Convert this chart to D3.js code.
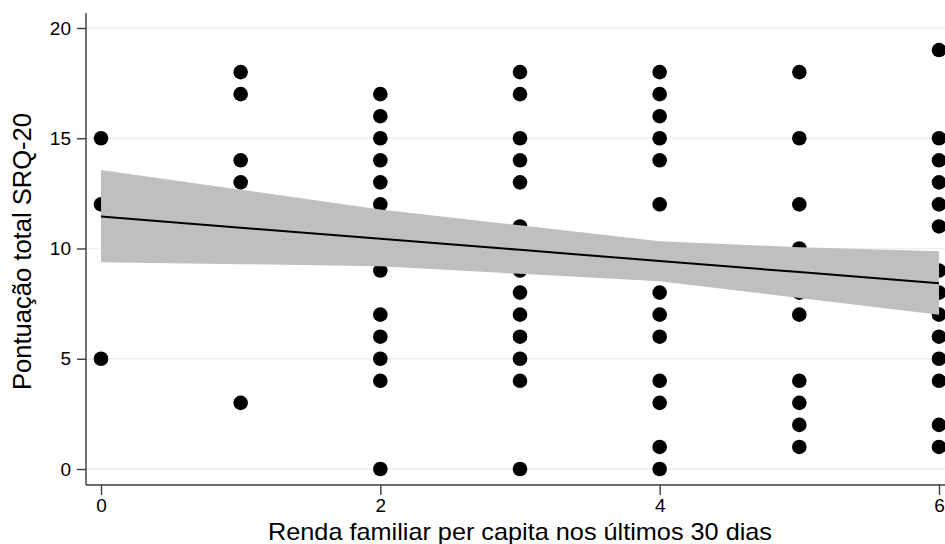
<!DOCTYPE html>
<html>
<head>
<meta charset="utf-8">
<script src="https://d3js.org/d3.v7.min.js"></script>
<style>
  body { margin: 0; background: #fff; }
  svg { display: block; font-family: "Liberation Sans", Arial, sans-serif; }
</style>
</head>
<body>
<svg width="945" height="544"></svg>
<script>
// observed points: renda (x) and SRQ-20 score (y)
const renda = [0,0,0, 1,1,1,1,1,
  2,2,2,2,2,2,2,2,2,2,2,2,
  3,3,3,3,3,3,3,3,3,3,3,3,3,
  4,4,4,4,4,4,4,4,4,4,4,4,4,
  5,5,5,5,5,5,5,5,5,5,
  6,6,6,6,6,6,6,6,6,6,6,6,6,6];
const srq = [15,12,5, 18,17,14,13,3,
  17,16,15,14,13,12,9,7,6,5,4,0,
  18,17,15,14,13,11,9,8,7,6,5,4,0,
  18,17,16,15,14,12,8,7,6,4,3,1,0,
  18,15,12,10,8,7,4,3,2,1,
  19,15,14,13,12,11,9,8,7,6,5,4,2,1];

// fitted line and 95% CI
const fitX = [0, 1, 2, 3, 4, 5, 6];
const fitY = [11.45, 10.94, 10.44, 9.94, 9.43, 8.93, 8.42];
const ciUpper = [13.56, 12.67, 11.77, 11.05, 10.33, 10.06, 9.88];
const ciLower = [9.38, 9.29, 9.2, 8.85, 8.51, 7.76, 7.0];

const xTicks = [0, 2, 4, 6];
const yTicks = [0, 5, 10, 15, 20];

const width = 945, height = 544;
const svg = d3.select("svg");

const x = d3.scaleLinear().domain([0, 6]).range([101, 939]);
const y = d3.scaleLinear().domain([0, 20]).range([469, 28]);

const axisLeftX = 86, axisBottomY = 485;

// gridlines
svg.append("g")
  .selectAll("line")
  .data(yTicks)
  .join("line")
  .attr("x1", axisLeftX)
  .attr("x2", width)
  .attr("y1", d => y(d))
  .attr("y2", d => y(d))
  .attr("stroke", "#e9f1f2")
  .attr("stroke-width", 1.5);

// points
svg.append("g")
  .selectAll("circle")
  .data(renda.map((d, i) => ({ x: d, y: srq[i] })))
  .join("circle")
  .attr("cx", d => x(d.x))
  .attr("cy", d => y(d.y))
  .attr("r", 7.3)
  .attr("fill", "#000");

// confidence band
const band = fitX.map((d, i) => ({ x: d, lo: ciLower[i], hi: ciUpper[i] }));
svg.append("path")
  .datum(band)
  .attr("fill", "#bfbfbf")
  .attr("d", d3.area().x(d => x(d.x)).y0(d => y(d.lo)).y1(d => y(d.hi)));

// fitted line
svg.append("path")
  .datum(fitX.map((d, i) => ({ x: d, y: fitY[i] })))
  .attr("fill", "none")
  .attr("stroke", "#000")
  .attr("stroke-width", 2)
  .attr("d", d3.line().x(d => x(d.x)).y(d => y(d.y)));

// axes
const gy = svg.append("g")
  .attr("transform", `translate(${axisLeftX},0)`)
  .call(d3.axisLeft(y).tickValues(yTicks).tickFormat(d3.format("d"))
    .tickSize(9).tickPadding(6).tickSizeOuter(0));
gy.select(".domain").attr("d", `M0,13V${axisBottomY}`);

const gx = svg.append("g")
  .attr("transform", `translate(0,${axisBottomY})`)
  .call(d3.axisBottom(x).tickValues(xTicks).tickFormat(d3.format("d"))
    .tickSize(10).tickPadding(4).tickSizeOuter(0));
gx.select(".domain").attr("d", `M${axisLeftX},0H${width}`);

svg.selectAll(".domain").attr("stroke", "#3a3a3a").attr("stroke-width", 1.4);
svg.selectAll(".tick line").attr("stroke", "#3a3a3a").attr("stroke-width", 1.4);
svg.selectAll("g .tick text")
  .attr("fill", "#000")
  .attr("font-size", 19)
  .style("font-size", "19px")
  .attr("font-family", "'Liberation Sans', Arial, sans-serif");

// axis titles
svg.append("text")
  .attr("x", x(3))
  .attr("y", 540)
  .attr("text-anchor", "middle")
  .style("font-size", "24px")
  .attr("textLength", 504)
  .attr("lengthAdjust", "spacingAndGlyphs")
  .text("Renda familiar per capita nos últimos 30 dias");

svg.append("text")
  .attr("transform", `translate(31,251.5) rotate(-90)`)
  .attr("text-anchor", "middle")
  .style("font-size", "25px")
  .attr("textLength", 277)
  .attr("lengthAdjust", "spacingAndGlyphs")
  .text("Pontuação total SRQ-20");
</script>
</body>
</html>
